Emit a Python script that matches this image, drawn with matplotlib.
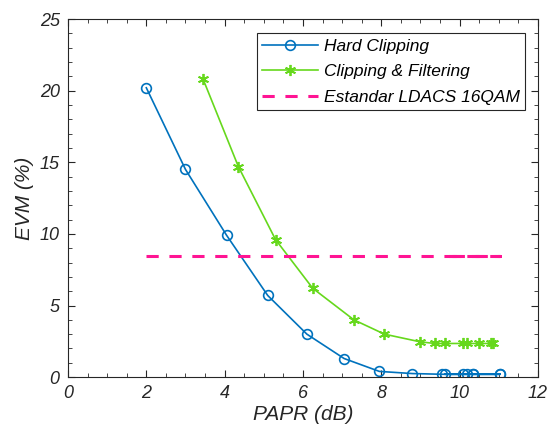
"""
EVM vs PAPR for hard clipping and clipping & filtering, with the LDACS 16QAM limit.
"""

import matplotlib.pyplot as plt
from matplotlib.ticker import MultipleLocator

# Hard clipping (PAPR in dB, EVM in %)
papr_hard = [2.0, 3.0, 4.05, 5.1, 6.1, 7.05, 7.95, 8.79, 9.54, 10.09, 10.35, 11.03,
             9.62, 10.18, 10.35, 11.03]
evm_hard = [20.2, 14.5, 9.9, 5.7, 3.0, 1.3, 0.4, 0.25, 0.2, 0.2, 0.2, 0.2,
            0.2, 0.2, 0.2, 0.2]

# Clipping & filtering
papr_filt = [3.45, 4.35, 5.3, 6.25, 7.3, 8.08, 9.0, 9.37, 9.62, 10.09, 10.19, 10.49,
             10.8, 10.86]
evm_filt = [20.8, 14.7, 9.6, 6.2, 4.0, 3.0, 2.46, 2.35, 2.35, 2.35, 2.35, 2.35,
            2.35, 2.35]

# LDACS 16QAM EVM limit
evm_limit = 8.45

BLUE = "#0072BD"
GREEN = "#66D81C"
PINK = "#FF1493"
AX_COLOR = "#262626"


def main():
    plt.rcParams["font.family"] = ["Liberation Sans", "DejaVu Sans"]

    fig = plt.figure(figsize=(5.5, 4.37), dpi=100)
    ax = fig.add_axes([0.1236, 0.137, 0.8545, 0.8195])

    ax.plot(papr_hard, evm_hard, color=BLUE, marker="o", markersize=7,
            markerfacecolor="none", markeredgewidth=1.2, linewidth=1.2,
            label="Hard Clipping")
    # MATLAB-style asterisk marker
    ax.plot(papr_filt, evm_filt, color=GREEN, marker=(6, 2, 0), markersize=8,
            markeredgewidth=1.3, linewidth=1.2, label="Clipping & Filtering")
    ax.plot(papr_hard, [evm_limit] * len(papr_hard), color=PINK, linestyle="--",
            dashes=(4, 3.5), linewidth=2.2, label="Estandar LDACS 16QAM")

    ax.set_xlim(0, 12)
    ax.set_ylim(0, 25)
    ax.xaxis.set_major_locator(MultipleLocator(2))
    ax.xaxis.set_minor_locator(MultipleLocator(0.5))
    ax.yaxis.set_major_locator(MultipleLocator(5))
    ax.yaxis.set_minor_locator(MultipleLocator(1))
    ax.tick_params(which="both", direction="in", top=True, right=True,
                   colors=AX_COLOR, labelsize=13, pad=6)
    ax.tick_params(which="major", length=5)
    ax.tick_params(which="minor", length=3)
    for lbl in ax.get_xticklabels() + ax.get_yticklabels():
        lbl.set_fontstyle("italic")
    for sp in ax.spines.values():
        sp.set_color(AX_COLOR)

    ax.set_xlabel("PAPR (dB)", fontsize=15, style="italic", color=AX_COLOR, labelpad=2)
    ax.set_ylabel("EVM (%)", fontsize=15, style="italic", color=AX_COLOR, labelpad=4)

    leg = ax.legend(loc="upper right", prop={"style": "italic", "size": 12.5},
                    fancybox=False, framealpha=1, edgecolor=AX_COLOR,
                    handlelength=3.2, handletextpad=0.35, borderpad=0.3,
                    labelspacing=0.6, borderaxespad=0.0,
                    bbox_to_anchor=(0.973, 0.96))
    leg.get_frame().set_linewidth(0.8)

    fig.savefig("out.png", dpi=100)


if __name__ == "__main__":
    main()
